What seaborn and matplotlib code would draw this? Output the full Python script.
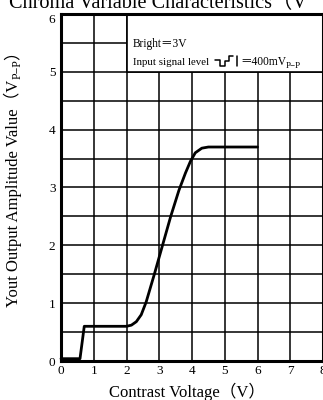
import numpy as np
import pandas as pd
import matplotlib
matplotlib.use("Agg")
import matplotlib.pyplot as plt
import seaborn as sns
from matplotlib.transforms import IdentityTransform, ScaledTranslation
from matplotlib.ticker import MultipleLocator
from matplotlib.lines import Line2D
from matplotlib.patches import Rectangle

# ---- data ----
contrast_v = [0.0, 0.58, 0.71, 2.0, 2.15, 2.3, 2.45, 2.6, 2.85, 3.1, 3.35, 3.6, 3.8, 3.95, 4.1, 4.3, 4.5, 6.0]
yout_vpp = [0.04, 0.04, 0.6, 0.6, 0.62, 0.68, 0.8, 1.02, 1.5, 2.0, 2.5, 2.95, 3.25, 3.45, 3.6, 3.68, 3.7, 3.7]
x_ticks = [0, 1, 2, 3, 4, 5, 6, 7, 8]
y_ticks = [0, 1, 2, 3, 4, 5, 6]
title_text = "Chroma Variable Characteristics（V"
xlabel_text = "Contrast Voltage（V）"
ylabel_main = "Yout Output Amplitude Value"
note_bright = "Bright＝3V"
note_input = "Input signal level"
note_level = "＝400mV"
sub_pp = "P−P"

sns.set_style("white")
FAM = ["Liberation Serif", "Noto Sans CJK JP", "DejaVu Sans"]
plt.rcParams["font.family"] = FAM

W, H, DPI = 323, 400, 100
fig = plt.figure(figsize=(W / DPI, H / DPI), dpi=DPI)
ax = fig.add_axes([61 / W, 39 / H, 262 / W, 347 / H])

df = pd.DataFrame({"Contrast": contrast_v, "Yout": yout_vpp})
sns.lineplot(data=df, x="Contrast", y="Yout", ax=ax, color="black", lw=2.0,
             estimator=None, sort=False, zorder=4, clip_on=False)

ax.set_xlim(0, 8)
ax.set_ylim(0, 6)
ax.set_xticks(x_ticks)
ax.set_yticks(y_ticks)
ax.set_xticklabels([str(v) for v in x_ticks])
ax.set_yticklabels([str(v) for v in y_ticks])
ax.yaxis.set_minor_locator(MultipleLocator(0.5))
ax.tick_params(which="both", length=0, labelsize=9.5, colors="black")
ax.tick_params(axis="x", pad=3)
ax.tick_params(axis="y", pad=4)
ax.set_axisbelow(True)
ax.grid(which="both", color="black", lw=1.1)
ax.grid(which="minor", axis="x", visible=False)
for s in ax.spines.values():
    s.set_color("black")
    s.set_linewidth(2.2)
    s.set_zorder(5)
ax.set_xlabel("")
ax.set_ylabel("")

# the top "6" label sits a little lower in the reference
top_lbl = ax.get_yticklabels()[-1]
top_lbl.set_transform(top_lbl.get_transform() + ScaledTranslation(0, -3 / 72, fig.dpi_scale_trans))

# note box covering the grid at top right
ax.add_patch(Rectangle((2, 5), 6, 1, facecolor="white", edgecolor="black", lw=1.2, zorder=2))

fig.canvas.draw()
r = fig.canvas.get_renderer()
ID = IdentityTransform()


def chain_h(x, y, pieces):
    for s, size, dy in pieces:
        t = fig.text(x, y + dy, s, fontsize=size, ha="left", va="baseline",
                     transform=ID, family=FAM, color="black")
        x = t.get_window_extent(r).x1
    return x


def chain_v(x, y, pieces):
    for s, size, dx in pieces:
        t = fig.text(x + dx, y, s, fontsize=size, rotation=90, rotation_mode="anchor",
                     ha="left", va="baseline", transform=ID, family=FAM, color="black")
        y = t.get_window_extent(r).y1
    return y


# title (cut at the top edge like the reference)
fig.text(9, H - 8, title_text, fontsize=14.6, ha="left", va="baseline",
         transform=ID, family=FAM, color="black")

# x label
fig.text(187, H - 397, xlabel_text, fontsize=12, ha="center", va="baseline",
         transform=ID, family=FAM, color="black")

# y label with subscript
t0 = fig.text(18, 0, ylabel_main, fontsize=12, rotation=90, rotation_mode="anchor",
              ha="left", va="baseline", transform=ID, family=FAM)
hgt = t0.get_window_extent(r).height
t0.remove()
y0 = (H - 108) - hgt
chain_v(18, y0, [(ylabel_main + "（V", 12, 0), (sub_pp, 8.5, 3), ("）", 12, 0)])

# note texts
chain_h(133, H - 47, [(note_bright, 8.3, 0)])
chain_h(133, H - 65, [(note_input, 7.8, 0)])
# step-signal icon
icon_x = [215, 220, 220, 225, 225, 229, 229, 233]
icon_y = [60, 60, 66, 66, 61, 61, 56, 56]
fig.add_artist(Line2D(icon_x, [H - v for v in icon_y], transform=ID, color="black", lw=1.1))
fig.add_artist(Line2D([237, 237], [H - 56, H - 66], transform=ID, color="black", lw=1.1))
chain_h(240, H - 65, [(note_level, 8.3, 0), (sub_pp, 6.5, -2.5)])

fig.savefig("out.png", dpi=DPI, facecolor="white")
